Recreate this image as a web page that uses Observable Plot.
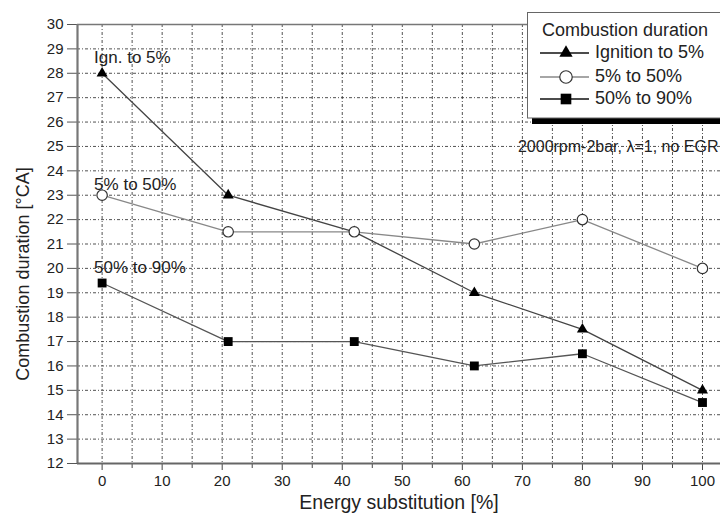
<!DOCTYPE html>
<html>
<head>
<meta charset="utf-8">
<script src="https://cdn.jsdelivr.net/npm/d3@7"></script>
<script src="https://cdn.jsdelivr.net/npm/@observablehq/plot@0.6"></script>
<style>
  body { margin: 0; background: #fff; }
  #chart { width: 720px; height: 518px; }
</style>
</head>
<body>
<div id="chart"></div>
<script>
// Energy substitution (%) at each operating point
const substitution = [0, 21, 42, 62, 80, 100];
// Combustion durations in crank-angle degrees
const ignitionTo5 = [28, 23, 21.5, 19, 17.5, 15];
const from5To50 = [23, 21.5, 21.5, 21, 22, 20];
const from50To90 = [19.4, 17, 17, 16, 16.5, 14.5];

const seriesNames = ["Ignition to 5%", "5% to 50%", "50% to 90%"];
const curveLabels = ["Ign. to 5%", "5% to 50%", "50% to 90%"];
const yTicks = d3.range(12, 31);
const xTicks = d3.range(0, 101, 10);
const xMinorTicks = d3.range(5, 100, 10);
const legendTitle = "Combustion duration";
const conditionNote = "2000rpm-2bar, \u03bb=1, no EGR";
const xLabel = "Energy substitution [%]";
const yLabel = "Combustion duration [°CA]";

const font = "'Liberation Sans', Arial, Helvetica, sans-serif";
const rows = (vals) => substitution.map((x, i) => ({x, y: vals[i]}));

const series = [
  {name: seriesNames[0], label: curveLabels[0], data: rows(ignitionTo5), symbol: "triangle", r: 4.1, fill: "#000", dotStroke: "none", line: "#444", legendLine: "#111", dy: -16},
  {name: seriesNames[1], label: curveLabels[1], data: rows(from5To50), symbol: "circle", r: 5.2, fill: "#fff", dotStroke: "#333", line: "#888", legendLine: "#888", dy: -11},
  {name: seriesNames[2], label: curveLabels[2], data: rows(from50To90), symbol: "square", r: 5.0, fill: "#000", dotStroke: "none", line: "#555", legendLine: "#111", dy: -15.5}
];

const grid = {stroke: "#333", strokeWidth: 0.85, strokeDasharray: "3,2,1,2"};

const marks = [
  Plot.ruleY(d3.range(13, 30), grid),
  Plot.ruleX(d3.range(0, 101, 5), grid),
  Plot.ruleY([30], {stroke: "#777", strokeWidth: 1.5}),
  Plot.axisY({ticks: yTicks, tickSize: 10, tickPadding: 4, fontSize: 15, stroke: "#555", label: null}),
  Plot.axisX({ticks: xTicks, tickSize: 7, tickPadding: 5, fontSize: 15, stroke: "#444", label: null}),
  Plot.axisX({ticks: xMinorTicks, tickSize: 5, tickFormat: () => "", stroke: "#444", label: null}),
  Plot.ruleX([-4.1], {stroke: "#777", strokeWidth: 2.2}),
  Plot.ruleY([12], {stroke: "#666", strokeWidth: 2.2}),
  Plot.text([conditionNote], {frameAnchor: "top-right", textAnchor: "end", dx: -2, dy: 116, fontSize: 16, fill: "#222"}),
  Plot.text([yLabel], {frameAnchor: "left", textAnchor: "middle", rotate: -90, dx: -54, dy: 30, fontSize: 18, fill: "#222"}),
  Plot.text([xLabel], {frameAnchor: "bottom", textAnchor: "middle", dy: 45, fontSize: 19.5, fill: "#222"})
];

for (const s of series) {
  marks.push(
    Plot.line(s.data, {x: "x", y: "y", stroke: s.line, strokeWidth: 1.3}),
    Plot.dot(s.data, {x: "x", y: "y", symbol: s.symbol, r: s.r, fill: s.fill, stroke: s.dotStroke, strokeWidth: 1.2}),
    Plot.text([s.data[0]], {x: "x", y: "y", text: () => s.label, textAnchor: "start", dx: -8, dy: s.dy, fontSize: 17, fill: "#222"})
  );
}

const svg = Plot.plot({
  width: 720,
  height: 518,
  marginLeft: 77,
  marginRight: 0,
  marginTop: 24,
  marginBottom: 55,
  style: {fontFamily: font, fontSize: "15px", color: "#222", background: "#fff"},
  x: {domain: [-4.1, 103]},
  y: {domain: [12, 30]},
  marks
});

// Boxed legend with a drop shadow in the top-right corner
const g = d3.select(svg).append("g").attr("font-family", font).attr("text-anchor", "start");
g.append("rect").attr("x", 532).attr("y", 18).attr("width", 200).attr("height", 106).attr("fill", "#000");
g.append("rect").attr("x", 527.5).attr("y", 12.5).attr("width", 200).attr("height", 105.5)
  .attr("fill", "#fff").attr("stroke", "#666").attr("stroke-width", 1);
g.append("text").attr("x", 542).attr("y", 31).attr("dominant-baseline", "middle")
  .attr("font-size", 18).attr("fill", "#222").text(legendTitle);
const rowY = [53, 77, 99];
series.forEach((s, i) => {
  const y = rowY[i];
  g.append("line").attr("x1", 540).attr("x2", 589).attr("y1", y).attr("y2", y)
    .attr("stroke", s.legendLine).attr("stroke-width", 1.3);
  const sym = {triangle: d3.symbolTriangle, circle: d3.symbolCircle, square: d3.symbolSquare}[s.symbol];
  const size = (s.r * 1.2) ** 2 * Math.PI;
  g.append("path").attr("d", d3.symbol(sym, size)()).attr("transform", `translate(566,${y})`)
    .attr("fill", s.fill).attr("stroke", s.dotStroke).attr("stroke-width", 1.2);
  g.append("text").attr("x", 595).attr("y", y).attr("dominant-baseline", "middle")
    .attr("font-size", 18).attr("fill", "#222").text(s.name);
});

document.getElementById("chart").append(svg);
</script>
</body>
</html>
